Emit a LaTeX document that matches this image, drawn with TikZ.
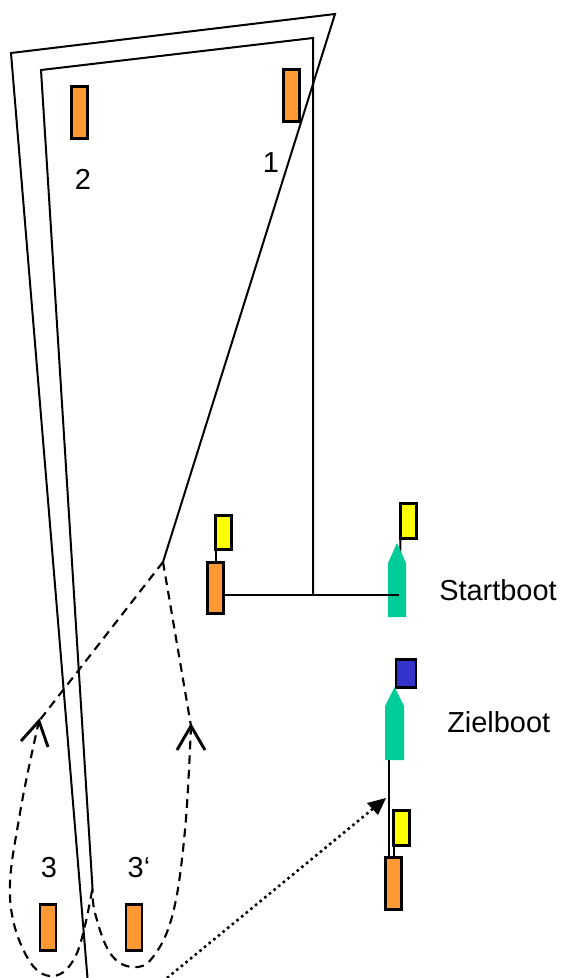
\documentclass[tikz,border=0pt]{standalone}
\usepackage{fontspec}
\setmainfont{Liberation Sans}
\definecolor{buoyorange}{HTML}{FF9933}
\definecolor{flagyellow}{HTML}{FFFF00}
\definecolor{boatgreen}{HTML}{00CC99}
\definecolor{flagblue}{HTML}{3333CC}
\tikzset{
  course/.style={draw=black,line width=1.5pt,line join=miter},
  box/.style={draw=black,line width=2.1pt,inner sep=0pt,outer sep=0pt,rectangle},
  buoy/.style={box,fill=buoyorange,minimum width=12pt,minimum height=38.5pt},
  smallbuoy/.style={buoy,minimum height=35pt},
  flagy/.style={box,fill=flagyellow,minimum width=12pt,minimum height=26pt},
  flagb/.style={box,fill=flagblue,minimum width=15pt,minimum height=20.5pt},
  label/.style={inner sep=0pt,font=\fontsize{21.7}{25}\selectfont},
  track/.style={draw=black,line width=1.6pt,dash pattern=on 6.5pt off 4.5pt},
  chevron/.style={draw=black,line width=2.2pt,line cap=butt,line join=miter},
  boat/.style={fill=boatgreen,draw=none}
}
\begin{document}
\begin{tikzpicture}[x=0.75pt,y=-0.75pt]
\useasboundingbox (0,0) rectangle (563,978);
% course coordinates
\coordinate (outerbottom) at (87.5,978);
\coordinate (outerleft) at (11,53);
\coordinate (outertop) at (335,14);
\coordinate (turn) at (163,562);
\coordinate (innertop) at (313,38);
\coordinate (innerleft) at (41,70);
\coordinate (innerbottom) at (92.5,888);
\coordinate (hub) at (313,595);
\coordinate (tipL) at (39,721);
\coordinate (tipR) at (191,726);
\coordinate (wingLa) at (21,741);
\coordinate (wingLb) at (48,747);
\coordinate (wingRa) at (177,750);
\coordinate (wingRb) at (205,750);
\coordinate (dotstart) at (167,978);
\coordinate (dottip) at (386,798);
\coordinate (startbow) at (397,543);
\coordinate (startlineend) at (399,595);
\coordinate (zielstern) at (389,760);
% lines
\draw[course] (outerbottom) -- (outerleft) -- (outertop) -- (turn);
\draw[course] (innerbottom) -- (innerleft) -- (innertop) -- (hub);
% dashed tracks
\draw[track] (turn) -- (tipL);
\draw[track] (turn) -- (tipR);
\draw[track] plot[smooth,tension=0.65] coordinates {(tipL) (20,813) (10,897) (27,957) (53,976) (77,953) (innerbottom)};
\draw[track] plot[smooth,tension=0.65] coordinates {(tipR) (185,830) (173,913) (153,957) (132,967) (110,953) (95,913) (innerbottom)};
\draw[chevron] (wingLa) -- (tipL) -- (wingLb);
\draw[chevron] (wingRa) -- (tipR) -- (wingRb);
% marks
\node[buoy] (m1) at (291.5,95.5) {};
\node[buoy] (m2) at (79.5,112.5) {};
\node[smallbuoy] (m3) at (48,927.5) {};
\node[smallbuoy] (m3p) at (134,927.5) {};
\node[buoy] (startbuoy) at (215.5,588) {};
\node[flagy] (startbuoyflag) at (223.5,532.5) {};
\node[flagy] (startflag) at (408.5,521) {};
\node[flagb] (zielflag) at (406,673.5) {};
\node[buoy] (zielbuoy) at (393.5,883.5) {};
\node[flagy] (zielbuoyflag) at (401.5,828) {};
% connectors
\draw[course] (startbuoyflag.south west) -- (startbuoy.north -| startbuoyflag.south west);
\draw[course] (startflag.south west) -- (400,560);
% boats
\fill[boat] (startbow) -- (406,563) -- (406,617) -- (388,617) -- (388,563) -- cycle;
\fill[boat] (394.5,687) -- (404,706) -- (404,760) -- (385,760) -- (385,706) -- cycle;
\draw[course] (startbuoy.east |- hub) -- (startlineend);
\draw[course] (zielstern) -- (zielstern |- zielbuoy.north);
\draw[course] (zielbuoyflag.south west) -- (zielbuoyflag.south west |- zielbuoy.north);
% dotted arrow
\draw[black,line width=1.9pt,dash pattern=on 1.9pt off 2.6pt,shorten >=10pt] (dotstart) -- (dottip);
\fill[black] (dottip) -- (367,803) -- (378,815) -- cycle;
% labels
\node[label] (l1) at (271,163) {1};
\node[label] (l2) at (83,179) {2};
\node[label] (l3) at (49,868) {3};
\node[label] (l3p) at (139,868) {3‘};
\node[label,anchor=west] (lstart) at (439,590) {Startboot};
\node[label,anchor=west] (lziel) at (447,722) {Zielboot};
\end{tikzpicture}
\end{document}
